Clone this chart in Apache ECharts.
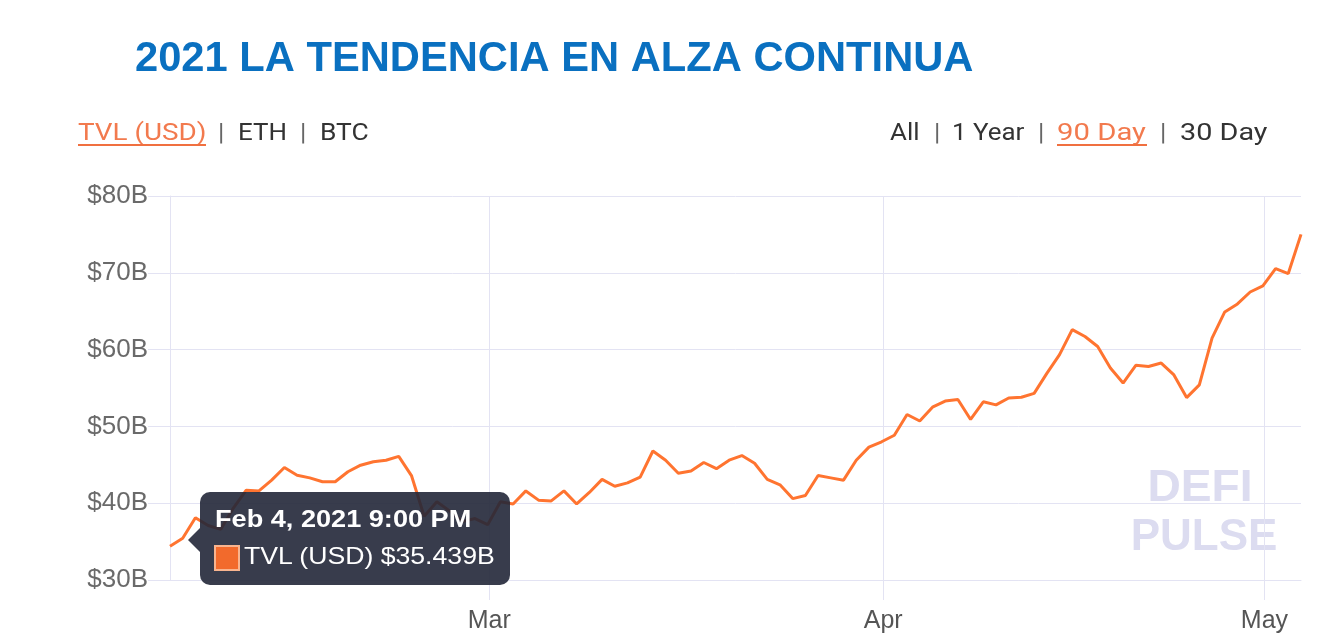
<!DOCTYPE html>
<html>
<head>
<meta charset="utf-8">
<title>TVL DeFi 90 Day</title>
<script src="https://cdn.jsdelivr.net/npm/echarts@6/dist/echarts.min.js"></script>
<style>
  html,
  body {
    margin: 0;
    padding: 0;
    background: #fff;
  }
  #tvl-chart {
    width: 1322px;
    height: 643px;
  }
</style>
</head>
<body>
<div id="tvl-chart"></div>
<script>
// datos: un punto por dia a las 21:00, desde el 3 de febrero de 2021 (TVL en miles de millones USD)
const startDate = [2021, 1, 3, 21];
const tvlValues = [
  34.4, 35.439, 38.1, 37.1, 36.6, 39.4, 41.7, 41.6, 43.0, 44.65,
  43.65, 43.3, 42.8, 42.8, 44.1, 44.95, 45.4, 45.6, 46.1, 43.6,
  38.3, 40.2, 39.0, 37.6, 38.0, 37.2, 40.2, 39.9, 41.6, 40.4,
  40.3, 41.6, 39.9, 41.4, 43.1, 42.2, 42.65, 43.4, 46.8, 45.6,
  43.9, 44.2, 45.3, 44.5, 45.6, 46.2, 45.2, 43.1, 42.4, 40.6,
  41.0, 43.6, 43.3, 43.0, 45.6, 47.3, 48.0, 48.85, 51.55, 50.7,
  52.5, 53.3, 53.5, 50.9, 53.2, 52.8, 53.7, 53.8, 54.3, 56.9,
  59.35, 62.6, 61.7, 60.4, 57.6, 55.65, 57.95, 57.8, 58.25, 56.7,
  53.75, 55.4, 61.5, 64.9, 65.95, 67.5, 68.3, 70.55, 69.9, 75.0
];
const yTicks = [30, 40, 50, 60, 70, 80];
const monthNames = ["Jan", "Feb", "Mar", "Apr", "May", "Jun", "Jul", "Aug", "Sep", "Oct", "Nov", "Dec"];
const seriesName = "TVL (USD)";
const tokenLinks = ["TVL (USD)", "ETH", "BTC"];
const rangeLinks = ["All", "1 Year", "90 Day", "30 Day"];
const tooltipIndex = 1;

const gridColor = "#e3e3f3";
const lineColor = "#f26a2c";
const linkOrange = "#f27a4e";

function dayTime(i) {
  return new Date(startDate[0], startDate[1], startDate[2] + i, startDate[3]).getTime();
}

function fmtDate(t) {
  const d = new Date(t);
  let h = d.getHours();
  const ampm = h >= 12 ? "PM" : "AM";
  h = h % 12 || 12;
  const mm = String(d.getMinutes()).padStart(2, "0");
  return monthNames[d.getMonth()] + " " + d.getDate() + ", " + d.getFullYear() + " " + h + ":" + mm + " " + ampm;
}

function linkText(str, x, color, sx) {
  return {
    type: "text",
    x: x,
    y: 134,
    scaleX: sx || 1.08,
    style: {
      text: str,
      font: '24px Roboto, "Noto Sans", sans-serif',
      fill: color,
      align: "left",
      verticalAlign: "middle",
    },
  };
}

function underline(x1, x2) {
  return {
    type: "line",
    shape: { x1: x1, y1: 145, x2: x2, y2: 145 },
    style: { stroke: "#f07040", lineWidth: 2 },
  };
}

function initChart() {
  let myChart = echarts.init(document.getElementById("tvl-chart"));
  const seriesData = tvlValues.map((v, i) => [dayTime(i), v]);

  myChart.setOption({
    animation: false,
    graphic: [
      {
        type: "text",
        x: 135,
        y: 60,
        style: {
          text: "2021 LA TENDENCIA EN ALZA CONTINUA",
          font: 'bold 41.7px "Liberation Sans", Arial, sans-serif',
          fill: "#0a70c0",
          align: "left",
          verticalAlign: "middle",
        },
      },
      linkText(tokenLinks[0], 78, linkOrange, 1.16),
      linkText("|", 218, "#666"),
      linkText(tokenLinks[1], 238, "#333"),
      linkText("|", 300, "#666"),
      linkText(tokenLinks[2], 320, "#333", 1.1),
      underline(78, 206),
      linkText(rangeLinks[0], 890, "#333"),
      linkText("|", 934, "#666"),
      linkText(rangeLinks[1], 952, "#333"),
      linkText("|", 1038, "#666"),
      linkText(rangeLinks[2], 1057, linkOrange, 1.22),
      linkText("|", 1160, "#666"),
      linkText(rangeLinks[3], 1180, "#333", 1.2),
      underline(1057, 1147),
      // marca de agua
      {
        type: "text",
        x: 1200,
        y: 489,
        z: -1,
        scaleX: 1.05,
        style: {
          text: "DEFI",
          font: 'bold 44px "Liberation Sans", Arial, sans-serif',
          fill: "#dcdcf0",
          align: "center",
          verticalAlign: "middle",
        },
      },
      {
        type: "text",
        x: 1204,
        y: 538,
        z: -1,
        style: {
          text: "PULSE",
          font: 'bold 44px "Liberation Sans", Arial, sans-serif',
          fill: "#dcdcf0",
          align: "center",
          verticalAlign: "middle",
        },
      },
    ],
    tooltip: {
      trigger: "axis",
      triggerOn: "none",
      alwaysShowContent: true,
      showDelay: 0,
      transitionDuration: 0,
      axisPointer: { type: "line", lineStyle: { opacity: 0 } },
      position: [200, 492],
      backgroundColor: "rgba(34,39,56,0.9)",
      borderWidth: 0,
      padding: 0,
      extraCssText: "width:310px;height:93px;border-radius:10px;box-shadow:none;overflow:visible;",
      formatter: function (params) {
        const p = params[0];
        const txt = "position:absolute;color:#fff;white-space:nowrap;transform-origin:0 0;line-height:28px;font-family:'Liberation Sans',Arial,sans-serif;";
        return (
          '<div style="position:absolute;left:-12px;top:36px;width:0;height:0;border-top:12px solid transparent;border-bottom:12px solid transparent;border-right:12px solid rgba(34,39,56,0.9);"></div>' +
          '<div style="' + txt + 'left:15px;top:13px;font-size:24px;font-weight:bold;transform:scaleX(1.13);">' + fmtDate(p.value[0]) + "</div>" +
          '<div style="position:absolute;left:14px;top:53px;width:22px;height:22px;background:' + lineColor + ';border:2px solid #f8b48f;"></div>' +
          '<div style="' + txt + 'left:44px;top:50px;font-size:24px;transform:scaleX(1.11);">' + p.seriesName + " $" + p.value[1].toFixed(3) + "B</div>"
        );
      },
    },
    grid: {
      left: 170,
      right: 21,
      top: 196,
      bottom: 63,
    },
    xAxis: {
      type: "time",
      min: dayTime(0),
      max: dayTime(tvlValues.length - 1),
      minInterval: 28 * 86400000,
      axisLine: { lineStyle: { color: gridColor } },
      axisTick: { show: true, length: 20, lineStyle: { color: gridColor } },
      axisLabel: {
        margin: 29,
        fontSize: 25,
        color: "#555",
        fontFamily: '"Liberation Sans", Arial, sans-serif',
        showMinLabel: false,
        showMaxLabel: false,
        formatter: function (v) {
          return monthNames[new Date(v).getMonth()];
        },
      },
      splitLine: { show: true, showMaxLine: false, lineStyle: { color: gridColor } },
    },
    yAxis: {
      type: "value",
      min: yTicks[0],
      max: yTicks[yTicks.length - 1],
      interval: 10,
      axisLine: { show: true, lineStyle: { color: gridColor } },
      axisTick: { show: true, length: 22, lineStyle: { color: gridColor } },
      axisLabel: {
        margin: 22,
        fontSize: 26,
        color: "#6a6a6a",
        fontFamily: '"Liberation Sans", Arial, sans-serif',
        formatter: (v) => "$" + v + "B",
      },
      splitLine: { show: true, lineStyle: { color: gridColor } },
    },
    series: [
      {
        name: seriesName,
        type: "line",
        symbol: "none",
        data: seriesData,
        lineStyle: { color: lineColor, width: 3 },
        itemStyle: { color: lineColor },
      },
    ],
  });

  myChart.dispatchAction({ type: "showTip", seriesIndex: 0, dataIndex: tooltipIndex });
}

initChart();
</script>
</body>
</html>
